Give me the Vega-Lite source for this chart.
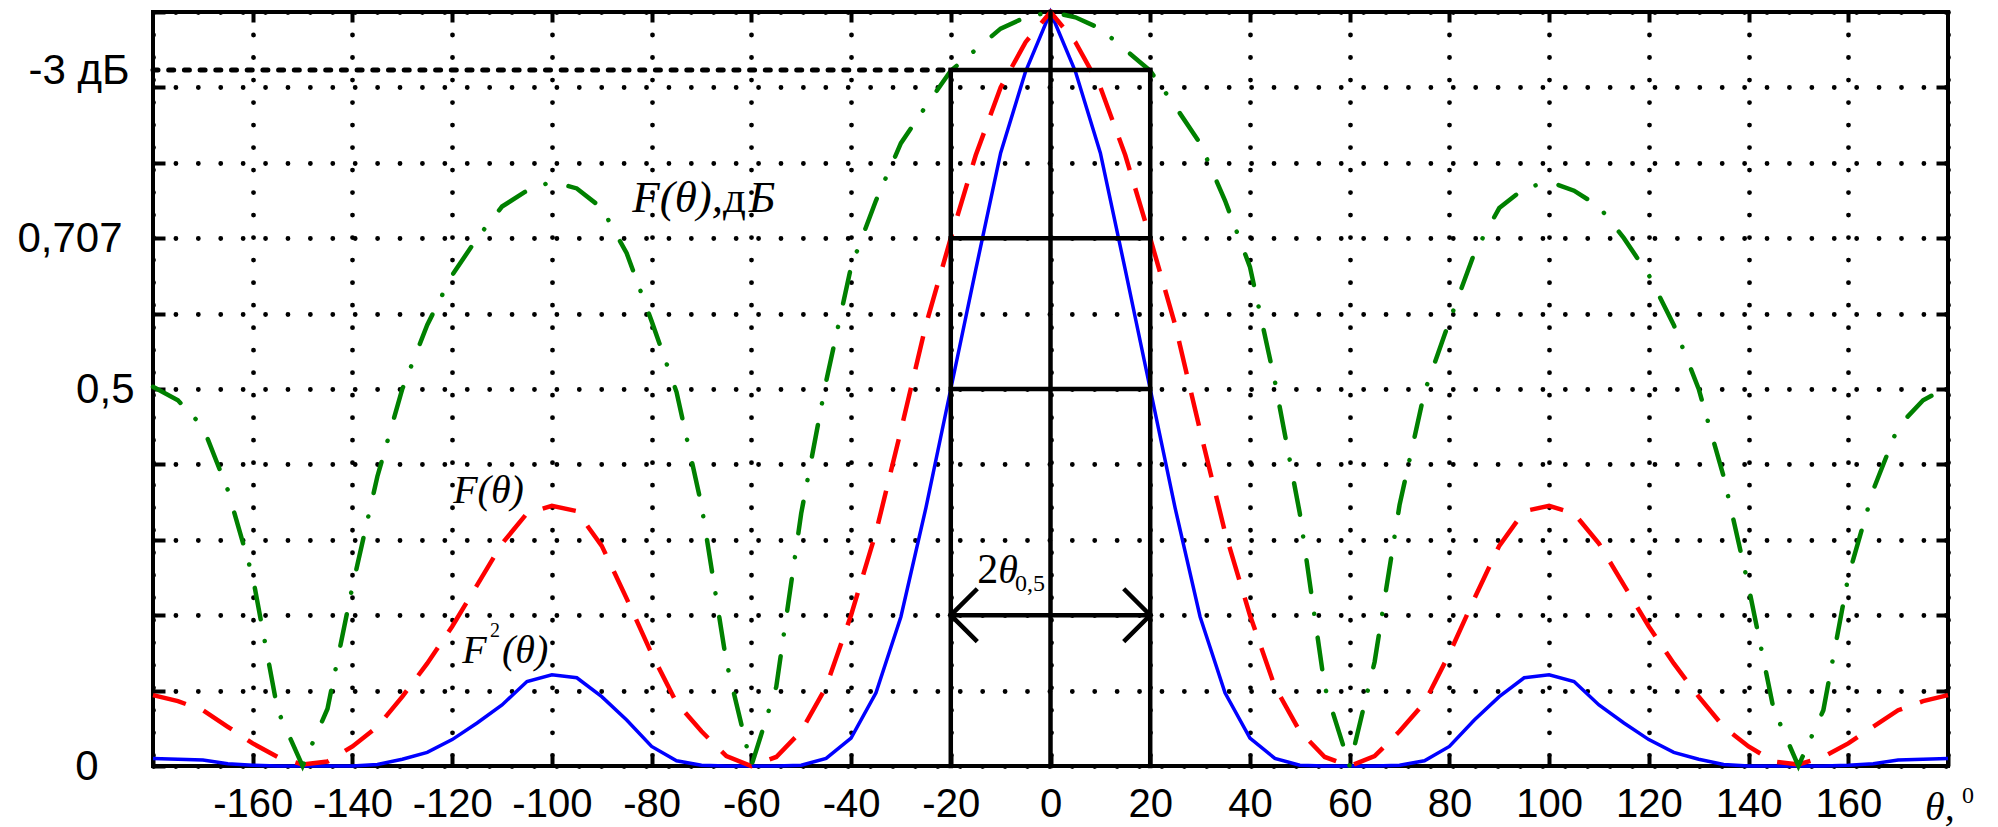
{
  "$schema": "https://vega.github.io/schema/vega-lite/v6.json",
  "width": 1795,
  "height": 754,
  "autosize": "none",
  "padding": {"left": 153, "top": 12, "right": 50, "bottom": 61},
  "background": "white",
  "config": {
    "view": {"stroke": "black", "strokeWidth": 4},
    "axis": {"domain": false, "title": null, "labelFlush": false, "labelOverlap": false, "labelBound": false}
  },
  "datasets": {
    "curves": [
      {"t": -180, "F2": 0.010, "F": 0.094, "dB": 0.503},
      {"t": -175, "F2": 0.009, "F": 0.086, "dB": 0.485},
      {"t": -170, "F2": 0.008, "F": 0.074, "dB": 0.450},
      {"t": -165, "F2": 0.003, "F": 0.052, "dB": 0.366},
      {"t": -160, "F2": 0.001, "F": 0.030, "dB": 0.251},
      {"t": -155, "F2": 0.000, "F": 0.012, "dB": 0.074},
      {"t": -150, "F2": 0.000, "F": 0.002, "dB": 0.000},
      {"t": -145, "F2": 0.000, "F": 0.006, "dB": 0.076},
      {"t": -140, "F2": 0.000, "F": 0.026, "dB": 0.238},
      {"t": -135, "F2": 0.002, "F": 0.052, "dB": 0.384},
      {"t": -130, "F2": 0.009, "F": 0.092, "dB": 0.500},
      {"t": -125, "F2": 0.018, "F": 0.136, "dB": 0.585},
      {"t": -120, "F2": 0.035, "F": 0.185, "dB": 0.651},
      {"t": -115, "F2": 0.057, "F": 0.240, "dB": 0.700},
      {"t": -110, "F2": 0.081, "F": 0.295, "dB": 0.742},
      {"t": -105, "F2": 0.112, "F": 0.335, "dB": 0.763},
      {"t": -100, "F2": 0.121, "F": 0.345, "dB": 0.775},
      {"t": -95, "F2": 0.117, "F": 0.338, "dB": 0.766},
      {"t": -90, "F2": 0.092, "F": 0.292, "dB": 0.740},
      {"t": -85, "F2": 0.061, "F": 0.222, "dB": 0.680},
      {"t": -80, "F2": 0.026, "F": 0.149, "dB": 0.590},
      {"t": -75, "F2": 0.007, "F": 0.084, "dB": 0.496},
      {"t": -70, "F2": 0.001, "F": 0.046, "dB": 0.346},
      {"t": -65, "F2": 0.000, "F": 0.013, "dB": 0.138},
      {"t": -60, "F2": 0.000, "F": 0.000, "dB": 0.000},
      {"t": -55, "F2": 0.000, "F": 0.012, "dB": 0.105},
      {"t": -50, "F2": 0.001, "F": 0.046, "dB": 0.335},
      {"t": -45, "F2": 0.010, "F": 0.105, "dB": 0.510},
      {"t": -40, "F2": 0.037, "F": 0.200, "dB": 0.662},
      {"t": -35, "F2": 0.097, "F": 0.310, "dB": 0.750},
      {"t": -30, "F2": 0.198, "F": 0.445, "dB": 0.826},
      {"t": -25, "F2": 0.342, "F": 0.585, "dB": 0.875},
      {"t": -20, "F2": 0.500, "F": 0.700, "dB": 0.922},
      {"t": -15, "F2": 0.658, "F": 0.810, "dB": 0.950},
      {"t": -10, "F2": 0.813, "F": 0.900, "dB": 0.978},
      {"t": -5, "F2": 0.921, "F": 0.960, "dB": 0.993},
      {"t": 0, "F2": 1.000, "F": 1.000, "dB": 1.000},
      {"t": 5, "F2": 0.921, "F": 0.960, "dB": 0.993},
      {"t": 10, "F2": 0.813, "F": 0.900, "dB": 0.978},
      {"t": 15, "F2": 0.658, "F": 0.810, "dB": 0.950},
      {"t": 20, "F2": 0.500, "F": 0.700, "dB": 0.922},
      {"t": 25, "F2": 0.342, "F": 0.585, "dB": 0.875},
      {"t": 30, "F2": 0.198, "F": 0.445, "dB": 0.826},
      {"t": 35, "F2": 0.097, "F": 0.310, "dB": 0.750},
      {"t": 40, "F2": 0.037, "F": 0.200, "dB": 0.662},
      {"t": 45, "F2": 0.010, "F": 0.105, "dB": 0.510},
      {"t": 50, "F2": 0.001, "F": 0.046, "dB": 0.335},
      {"t": 55, "F2": 0.000, "F": 0.012, "dB": 0.105},
      {"t": 60, "F2": 0.000, "F": 0.000, "dB": 0.000},
      {"t": 65, "F2": 0.000, "F": 0.013, "dB": 0.138},
      {"t": 70, "F2": 0.001, "F": 0.046, "dB": 0.346},
      {"t": 75, "F2": 0.007, "F": 0.084, "dB": 0.496},
      {"t": 80, "F2": 0.026, "F": 0.149, "dB": 0.590},
      {"t": 85, "F2": 0.061, "F": 0.222, "dB": 0.680},
      {"t": 90, "F2": 0.092, "F": 0.292, "dB": 0.740},
      {"t": 95, "F2": 0.117, "F": 0.338, "dB": 0.766},
      {"t": 100, "F2": 0.121, "F": 0.345, "dB": 0.775},
      {"t": 105, "F2": 0.112, "F": 0.335, "dB": 0.763},
      {"t": 110, "F2": 0.081, "F": 0.295, "dB": 0.742},
      {"t": 115, "F2": 0.057, "F": 0.240, "dB": 0.700},
      {"t": 120, "F2": 0.035, "F": 0.185, "dB": 0.651},
      {"t": 125, "F2": 0.018, "F": 0.136, "dB": 0.585},
      {"t": 130, "F2": 0.009, "F": 0.092, "dB": 0.500},
      {"t": 135, "F2": 0.002, "F": 0.052, "dB": 0.384},
      {"t": 140, "F2": 0.000, "F": 0.026, "dB": 0.238},
      {"t": 145, "F2": 0.000, "F": 0.006, "dB": 0.076},
      {"t": 150, "F2": 0.000, "F": 0.002, "dB": 0.000},
      {"t": 155, "F2": 0.000, "F": 0.012, "dB": 0.074},
      {"t": 160, "F2": 0.001, "F": 0.030, "dB": 0.251},
      {"t": 165, "F2": 0.003, "F": 0.052, "dB": 0.366},
      {"t": 170, "F2": 0.008, "F": 0.074, "dB": 0.450},
      {"t": 175, "F2": 0.009, "F": 0.086, "dB": 0.485},
      {"t": 180, "F2": 0.010, "F": 0.094, "dB": 0.503}
    ],
    "rules": [
      {"x": -20, "x2": -20, "y": 0, "y2": 0.923},
      {"x": 20, "x2": 20, "y": 0, "y2": 0.923},
      {"x": 0, "x2": 0, "y": 0, "y2": 1},
      {"x": -20, "x2": 20, "y": 0.923, "y2": 0.923},
      {"x": -20, "x2": 20, "y": 0.7, "y2": 0.7},
      {"x": -20, "x2": 20, "y": 0.5, "y2": 0.5},
      {"x": -20, "x2": 20, "y": 0.2, "y2": 0.2},
      {"x": -20, "x2": -15, "y": 0.2, "y2": 0.233},
      {"x": -20, "x2": -15, "y": 0.2, "y2": 0.167},
      {"x": 20, "x2": 15, "y": 0.2, "y2": 0.233},
      {"x": 20, "x2": 15, "y": 0.2, "y2": 0.167}
    ],
    "level3db": [
      {"x": -180, "x2": -20, "y": 0.923}
    ],
    "italicBig": [
      {"x": -83.9, "y": 0.735, "text": "F(θ),"},
      {"x": -60.5, "y": 0.735, "text": "Б"}
    ],
    "uprightBig": [
      {"x": -65.7, "y": 0.735, "text": "д"}
    ],
    "italicMid": [
      {"x": -119.8, "y": 0.349, "text": "F(θ)"},
      {"x": -118.0, "y": 0.137, "text": "F"},
      {"x": -110.0, "y": 0.137, "text": "(θ)"},
      {"x": -10.5, "y": 0.243, "text": "θ"},
      {"x": 175.4, "y": -0.072, "text": "θ,"}
    ],
    "uprightMid": [
      {"x": -14.7, "y": 0.243, "text": "2"}
    ],
    "small": [
      {"x": -7.1, "y": 0.232, "text": "0,5"},
      {"x": 182.8, "y": -0.049, "text": "0"}
    ],
    "sup": [
      {"x": -112.4, "y": 0.171, "text": "2"}
    ]
  },
  "resolve": {"axis": {"x": "independent", "y": "independent"}},
  "layer": [
    {
      "data": {"name": "curves"},
      "mark": {"type": "line", "color": "#0000FF", "strokeWidth": 3.5},
      "encoding": {
        "x": {
          "field": "t", "type": "quantitative",
          "scale": {"domain": [-180, 180], "nice": false, "zero": false},
          "axis": {
            "orient": "bottom",
            "values": [-180, -160, -140, -120, -100, -80, -60, -40, -20, 0, 20, 40, 60, 80, 100, 120, 140, 160, 180],
            "labelExpr": "abs(datum.value) == 180 ? '' : '' + datum.value",
            "labelFont": "Liberation Sans", "labelFontSize": 40, "labelColor": "black",
            "labelPadding": 28,
            "grid": true, "gridColor": "black", "gridWidth": 4.8, "gridDash": [0.01, 22.5], "gridCap": "round", "gridOpacity": 1,
            "ticks": true, "tickSize": -10, "tickWidth": 4, "tickColor": "black"
          }
        },
        "y": {
          "field": "F2", "type": "quantitative",
          "scale": {"domain": [0, 1], "nice": false, "zero": false},
          "axis": {
            "orient": "left",
            "values": [0, 0.1, 0.2, 0.3, 0.4, 0.5, 0.6, 0.7, 0.8, 0.9, 1, 0.923],
            "labelExpr": "datum.value == 0 ? '0' : datum.value == 0.5 ? '0,5' : datum.value == 0.7 ? '0,707' : (datum.value > 0.92 && datum.value < 0.93) ? '-3 дБ' : ''",
            "labelFont": "Liberation Sans", "labelFontSize": 42, "labelColor": "black",
            "labelAlign": "right", "labelBaseline": "middle",
            "labelPadding": {"condition": [
              {"test": "datum.value == 0", "value": 67},
              {"test": "datum.value == 0.5", "value": 31},
              {"test": "datum.value == 0.7", "value": 43}
            ], "value": 36},
            "grid": true, "gridColor": "black", "gridWidth": 4.8, "gridDash": [0.01, 22.4], "gridCap": "round",
            "gridOpacity": {"condition": {"test": "datum.value > 0.92 && datum.value < 0.93", "value": 0}, "value": 1},
            "ticks": true, "tickSize": -12, "tickWidth": 4, "tickColor": "black",
            "tickOpacity": {"condition": {"test": "datum.value > 0.92 && datum.value < 0.93", "value": 0}, "value": 1}
          }
        }
      }
    },
    {
      "data": {"name": "curves"},
      "mark": {"type": "line", "color": "#FF0000", "strokeWidth": 4.5, "strokeDash": [34, 19]},
      "encoding": {
        "x": {"field": "t", "type": "quantitative", "scale": {"domain": [-180, 180], "nice": false, "zero": false},
          "axis": {"orient": "top", "values": [-160, -140, -120, -100, -80, -60, -40, -20, 0, 20, 40, 60, 80, 100, 120, 140, 160], "labels": false, "grid": false, "ticks": true, "tickSize": -10, "tickWidth": 4, "tickColor": "black"}},
        "y": {"field": "F", "type": "quantitative", "scale": {"domain": [0, 1], "nice": false, "zero": false},
          "axis": {"orient": "right", "values": [0.1, 0.2, 0.3, 0.4, 0.5, 0.6, 0.7, 0.8, 0.9], "labels": false, "grid": false, "ticks": true, "tickSize": -12, "tickWidth": 4, "tickColor": "black"}}
      }
    },
    {
      "data": {"name": "curves"},
      "mark": {"type": "line", "color": "#008000", "strokeWidth": 4.5, "strokeDash": [32, 22, 0.1, 24], "strokeCap": "round"},
      "encoding": {
        "x": {"field": "t", "type": "quantitative", "scale": {"domain": [-180, 180], "nice": false, "zero": false}, "axis": null},
        "y": {"field": "dB", "type": "quantitative", "scale": {"domain": [0, 1], "nice": false, "zero": false}, "axis": null}
      }
    },
    {
      "data": {"name": "rules"},
      "mark": {"type": "rule", "color": "black", "strokeWidth": 4.5, "strokeCap": "square"},
      "encoding": {
        "x": {"field": "x", "type": "quantitative", "scale": {"domain": [-180, 180], "nice": false, "zero": false}, "axis": null},
        "x2": {"field": "x2"},
        "y": {"field": "y", "type": "quantitative", "scale": {"domain": [0, 1], "nice": false, "zero": false}, "axis": null},
        "y2": {"field": "y2"}
      }
    },
    {
      "data": {"name": "level3db"},
      "mark": {"type": "rule", "color": "black", "strokeWidth": 5, "strokeDash": [5, 10.7], "strokeCap": "round"},
      "encoding": {
        "x": {"field": "x", "type": "quantitative", "scale": {"domain": [-180, 180], "nice": false, "zero": false}, "axis": null},
        "x2": {"field": "x2"},
        "y": {"field": "y", "type": "quantitative", "scale": {"domain": [0, 1], "nice": false, "zero": false}, "axis": null}
      }
    },
    {
      "data": {"name": "italicBig"},
      "mark": {"type": "text", "font": "Liberation Serif", "fontSize": 45, "fontStyle": "italic", "align": "left", "baseline": "alphabetic", "color": "black"},
      "encoding": {
        "x": {"field": "x", "type": "quantitative", "scale": {"domain": [-180, 180], "nice": false, "zero": false}, "axis": null},
        "y": {"field": "y", "type": "quantitative", "scale": {"domain": [0, 1], "nice": false, "zero": false}, "axis": null},
        "text": {"field": "text"}
      }
    },
    {
      "data": {"name": "uprightBig"},
      "mark": {"type": "text", "font": "Liberation Serif", "fontSize": 45, "align": "left", "baseline": "alphabetic", "color": "black"},
      "encoding": {
        "x": {"field": "x", "type": "quantitative", "scale": {"domain": [-180, 180], "nice": false, "zero": false}, "axis": null},
        "y": {"field": "y", "type": "quantitative", "scale": {"domain": [0, 1], "nice": false, "zero": false}, "axis": null},
        "text": {"field": "text"}
      }
    },
    {
      "data": {"name": "italicMid"},
      "mark": {"type": "text", "font": "Liberation Serif", "fontSize": 40, "fontStyle": "italic", "align": "left", "baseline": "alphabetic", "color": "black"},
      "encoding": {
        "x": {"field": "x", "type": "quantitative", "scale": {"domain": [-180, 180], "nice": false, "zero": false}, "axis": null},
        "y": {"field": "y", "type": "quantitative", "scale": {"domain": [0, 1], "nice": false, "zero": false}, "axis": null},
        "text": {"field": "text"}
      }
    },
    {
      "data": {"name": "uprightMid"},
      "mark": {"type": "text", "font": "Liberation Serif", "fontSize": 42, "align": "left", "baseline": "alphabetic", "color": "black"},
      "encoding": {
        "x": {"field": "x", "type": "quantitative", "scale": {"domain": [-180, 180], "nice": false, "zero": false}, "axis": null},
        "y": {"field": "y", "type": "quantitative", "scale": {"domain": [0, 1], "nice": false, "zero": false}, "axis": null},
        "text": {"field": "text"}
      }
    },
    {
      "data": {"name": "small"},
      "mark": {"type": "text", "font": "Liberation Serif", "fontSize": 24, "align": "left", "baseline": "alphabetic", "color": "black"},
      "encoding": {
        "x": {"field": "x", "type": "quantitative", "scale": {"domain": [-180, 180], "nice": false, "zero": false}, "axis": null},
        "y": {"field": "y", "type": "quantitative", "scale": {"domain": [0, 1], "nice": false, "zero": false}, "axis": null},
        "text": {"field": "text"}
      }
    },
    {
      "data": {"name": "sup"},
      "mark": {"type": "text", "font": "Liberation Serif", "fontSize": 20, "align": "left", "baseline": "alphabetic", "color": "black"},
      "encoding": {
        "x": {"field": "x", "type": "quantitative", "scale": {"domain": [-180, 180], "nice": false, "zero": false}, "axis": null},
        "y": {"field": "y", "type": "quantitative", "scale": {"domain": [0, 1], "nice": false, "zero": false}, "axis": null},
        "text": {"field": "text"}
      }
    }
  ]
}
